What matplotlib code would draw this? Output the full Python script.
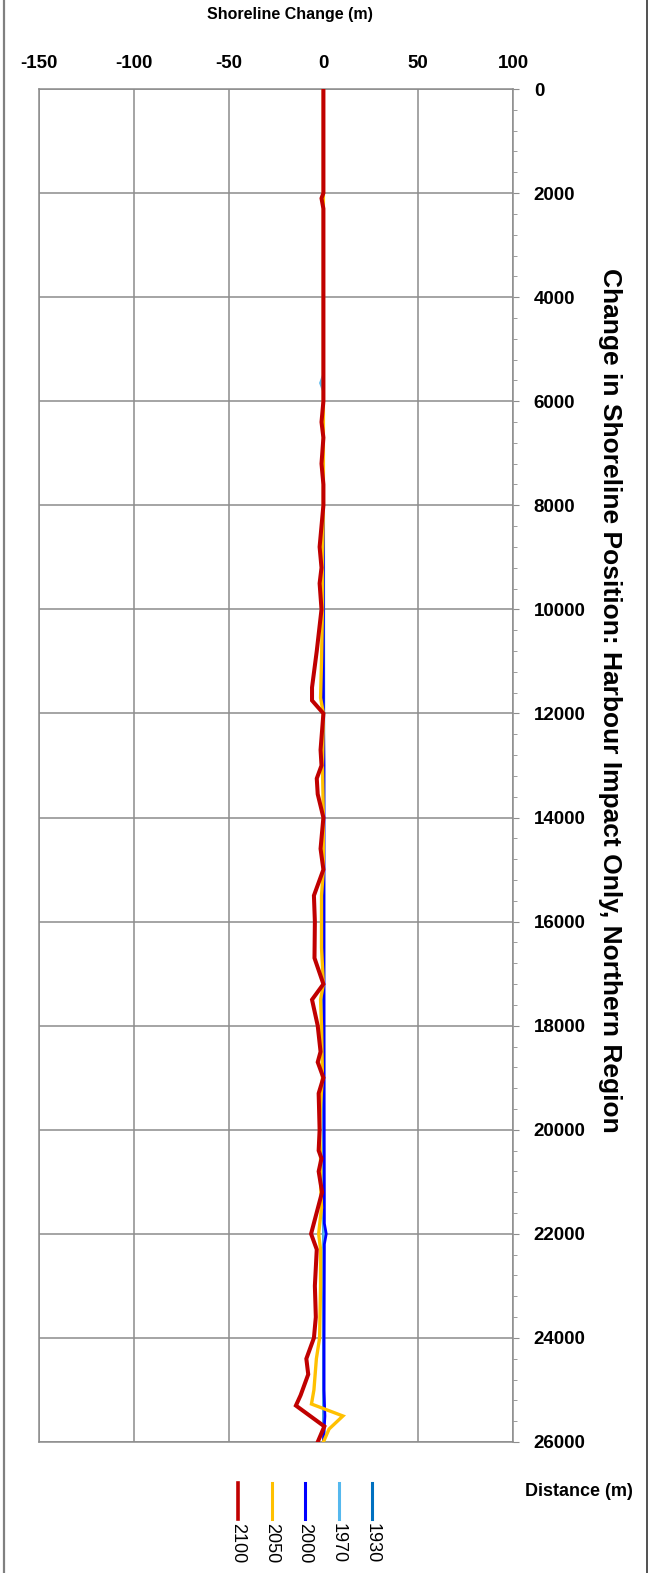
import numpy as np
import matplotlib.pyplot as plt
from matplotlib.lines import Line2D
from matplotlib.ticker import MultipleLocator

plt.rcParams['font.family'] = ['Liberation Sans', 'DejaVu Sans']
plt.rcParams['axes.unicode_minus'] = False

# distance along shore (m) and shoreline change (m) for each year
dist_2100 = [0, 2000, 2100, 2300, 6000, 6400, 6700, 7200, 7600, 8000, 8800, 9200, 9500,
             10000, 10800, 11500, 11750, 12000, 12700, 13000, 13250, 13550, 14000, 14600,
             15000, 15500, 16000, 16700, 17200, 17500, 18000, 18500, 18700, 19000, 19300,
             20000, 20400, 20550, 20800, 21200, 22000, 22300, 23000, 23600, 24000, 24400,
             24700, 25100, 25300, 25700, 26000]
chg_2100 = [0, 0, -1, 0, 0, -1, 0, -1, 0, 0, -2, -1, -2,
            -1, -3.5, -6, -6, 0, -1.5, -1, -3.5, -3, 0, -1.5,
            0, -5, -4.5, -4.7, 0, -6, -3, -1.5, -3, 0, -2.5,
            -2, -2.5, -1, -2.5, -0.7, -6.5, -3.5, -4.5, -4, -5, -9,
            -8, -12, -14.5, 0.5, -3]

dist_2050 = [0, 6000, 8000, 9000, 10000, 11000, 11700, 12000, 13000, 14000, 15000, 15500,
             16500, 17200, 17500, 18000, 19000, 19500, 20000, 20500, 21000, 21500, 22000,
             22300, 23000, 24000, 24400, 25000, 25270, 25500, 25750, 26000]
chg_2050 = [0, 0, 0, -0.5, -0.5, -1, -1.5, 0, -0.5, 0, 0, -1,
            -1, 0, -1.5, -1, -0.5, -1.5, -2, -1.5, -1.5, -1, -2.5,
            -1.5, -1.5, -2, -3.7, -5, -6.3, 10.3, 3, 0]

dist_2000 = [0, 12000, 13000, 17000, 20000, 21800, 22000, 22200, 24000, 25000, 25500, 26000]
chg_2000 = [0, 0, 0.3, 0.3, 0.4, 0.5, 1.5, 0.5, 0.3, 0.3, 0.8, 0]

dist_1970 = [0, 5500, 5650, 5800, 12000, 26000]
chg_1970 = [0, 0, -1.5, 0, 0, 0.2]

dist_1930 = [0, 13000, 26000]
chg_1930 = [0, 0.2, 0.2]

years = ['2100', '2050', '2000', '1970', '1930']
colors = {'2100': '#C00000', '2050': '#FFC000', '2000': '#0000FF',
          '1970': '#55B8EE', '1930': '#0070C0'}
widths = {'2100': 2.9, '2050': 2.4, '2000': 2.0, '1970': 2.0, '1930': 2.0}
series = {'2100': (dist_2100, chg_2100), '2050': (dist_2050, chg_2050),
          '2000': (dist_2000, chg_2000), '1970': (dist_1970, chg_1970),
          '1930': (dist_1930, chg_1930)}

W, H = 653, 1573
fig = plt.figure(figsize=(W / 100, H / 100), dpi=100)
ax = fig.add_axes([39 / W, 1 - 1442 / H, (513 - 39) / W, (1442 - 89) / H])

grey = '#8c8c8c'
for y in reversed(years):
    d, c = series[y]
    ax.plot(c, d, color=colors[y], lw=widths[y], solid_joinstyle='miter', zorder=3)

ax.set_xlim(-150, 100)
ax.set_ylim(26000, 0)
ax.set_xticks(np.arange(-150, 101, 50))
ax.set_yticks(np.arange(0, 26001, 2000))
ax.yaxis.set_minor_locator(MultipleLocator(400))
ax.grid(True, color=grey, lw=1.1, zorder=1)

ax.xaxis.tick_top()
ax.yaxis.tick_right()
ax.tick_params(axis='x', length=0, pad=12, labelsize=13.5)
ax.tick_params(axis='y', which='major', length=4, pad=11, labelsize=13.5, color=grey)
ax.tick_params(axis='y', which='minor', length=3, color=grey)
for lab in ax.get_xticklabels() + ax.get_yticklabels():
    lab.set_fontweight('bold')
for s in ax.spines.values():
    s.set_color(grey)
    s.set_linewidth(1.1)

fig.text(290 / W, 1 - 15 / H, 'Shoreline Change (m)', ha='center', va='center',
         fontsize=11.5, fontweight='bold')
fig.text(610 / W, 1 - 700 / H,
         'Change in Shoreline Position: Harbour Impact Only, Northern Region',
         rotation=-90, ha='center', va='center', fontsize=19, fontweight='bold')
fig.text(633 / W, 1 - 1492 / H, 'Distance (m)', ha='right', va='center',
         fontsize=13, fontweight='bold')

# legend: vertical samples with rotated labels
for i, y in enumerate(years):
    x = (238 + i * 33.5) / W
    fig.add_artist(Line2D([x, x], [1 - 1483 / H, 1 - 1519 / H], color=colors[y],
                          lw=2.6 if y == '2100' else 2.2, transform=fig.transFigure))
    fig.text(x, 1 - 1523 / H, y, rotation=-90, ha='center', va='top', fontsize=13)

# outer frame
fig.add_artist(Line2D([4 / W, 4 / W], [0, 1], color='#808080', lw=1.6,
                      transform=fig.transFigure))
fig.add_artist(Line2D([647 / W, 647 / W], [0, 1], color='#333333', lw=1.2,
                      transform=fig.transFigure))

fig.savefig('out.png', dpi=100)
